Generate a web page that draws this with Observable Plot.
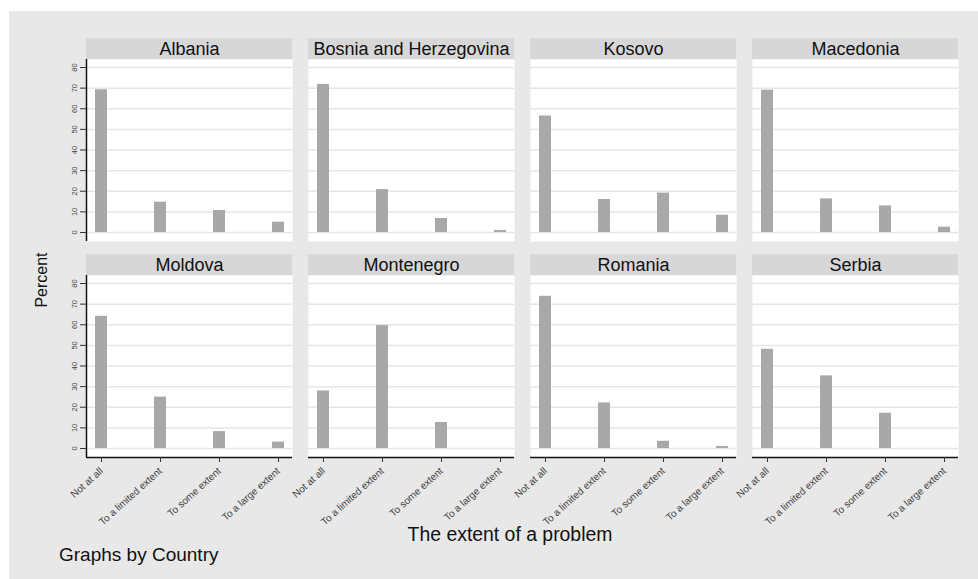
<!DOCTYPE html>
<html>
<head>
<meta charset="utf-8">
<script src="https://cdn.jsdelivr.net/npm/d3@7"></script>
<script src="https://cdn.jsdelivr.net/npm/@observablehq/plot@0.6"></script>
<style>
  body { margin: 0; background: #ffffff; font-family: "Liberation Sans", Arial, sans-serif; }
  #wrap { position: absolute; left: 9px; top: 11px; width: 969px; height: 568px; background: #e8e8e8; overflow: hidden; }
  #chart { position: absolute; left: 0; top: 0; }
  .t { position: absolute; color: #111; white-space: nowrap; line-height: 1; }
  #ylab { left: 33px; top: 269px; font-size: 16px; transform: translate(-50%, -50%) rotate(-90deg); }
  #xlab { left: 501px; top: 524px; font-size: 19.4px; transform: translate(-50%, -50%); }
  #note { left: 50px; top: 534px; font-size: 19px; }
</style>
</head>
<body>
<div id="wrap">
  <div id="chart"></div>
  <div class="t" id="ylab">Percent</div>
  <div class="t" id="xlab">The extent of a problem</div>
  <div class="t" id="note">Graphs by Country</div>
</div>
<script>
const countries = ["Albania", "Bosnia and Herzegovina", "Kosovo", "Macedonia", "Moldova", "Montenegro", "Romania", "Serbia"];
const categories = ["Not at all", "To a limited extent", "To some extent", "To a large extent"];
const albania    = [69.2, 14.7, 10.7, 5.0];
const bosnia     = [71.8, 20.8, 6.8, 1.0];
const kosovo     = [56.5, 16.0, 19.1, 8.4];
const macedonia  = [69.0, 16.3, 12.9, 2.6];
const moldova    = [64.1, 24.9, 8.2, 3.1];
const montenegro = [27.9, 59.6, 12.6, 0];
const romania    = [73.8, 22.1, 3.5, 1.0];
const serbia     = [48.1, 35.2, 17.1, 0];
const yTicks = [0, 10, 20, 30, 40, 50, 60, 70, 80];

const seriesList = [albania, bosnia, kosovo, macedonia, moldova, montenegro, romania, serbia];
const bars = countries.flatMap((c, i) => categories.map((k, j) => ({
  country: c, col: i % 4, row: Math.floor(i / 4), extent: k, percent: seriesList[i][j]
})));
const strips = countries.map((c, i) => ({country: c, col: i % 4, row: Math.floor(i / 4)}));
const leftPanels = strips.filter(d => d.col === 0);
const bottomPanels = strips.filter(d => d.row === 1);

const yMin = -4.36, yMax = 83.88, stripH = 10.06;
const W = 969, H = 530, mL = 77, mR = 20, gapX = 16;
const facetW = (W - mL - mR - 3 * gapX) / 4;

const chart = Plot.plot({
  width: W, height: H,
  marginLeft: mL, marginRight: mR, marginTop: 48, marginBottom: H - 446,
  style: {background: "transparent", fontFamily: "'Liberation Sans', Arial, sans-serif"},
  fx: {domain: [0, 1, 2, 3], paddingInner: gapX / (facetW + gapX), paddingOuter: 0, axis: null},
  fy: {domain: [0, 1], paddingInner: 34 / 216, paddingOuter: 0, axis: null},
  x: {domain: categories, paddingInner: 0.8, paddingOuter: 0.117, label: null},
  y: {domain: [yMin, yMax], label: null},
  marks: [
    Plot.frame({fill: "white", stroke: null}),
    Plot.gridY(yTicks, {stroke: "#e6e6e6", strokeOpacity: 1, strokeWidth: 1.5}),
    Plot.rect(strips, {fx: "col", fy: "row", y1: yMax, y2: yMax + stripH, fill: "#d7d7d7"}),
    Plot.text(strips, {fx: "col", fy: "row", y: yMax + stripH / 2, text: "country", fontSize: 18, fill: "#111"}),
    Plot.barY(bars, {fx: "col", fy: "row", x: "extent", y: "percent", fill: "#a8a8a8"}),
    Plot.ruleX(leftPanels, {fx: "col", fy: "row", x: null, dx: -facetW / 2, stroke: "#111", strokeWidth: 1.5}),
    Plot.ruleY(bottomPanels, {fx: "col", fy: "row", y: () => yMin, stroke: "#111", strokeWidth: 1.5}),
    Plot.axisY(yTicks, {tickRotate: -90, fontSize: 7.5, tickSize: 6, tickPadding: 4, stroke: "#333", fill: "#444"}),
    Plot.axisX({tickRotate: -42, fontSize: 10, tickSize: 5, stroke: "#333", fill: "#444"})
  ]
});
document.getElementById("chart").appendChild(chart);
</script>
</body>
</html>
